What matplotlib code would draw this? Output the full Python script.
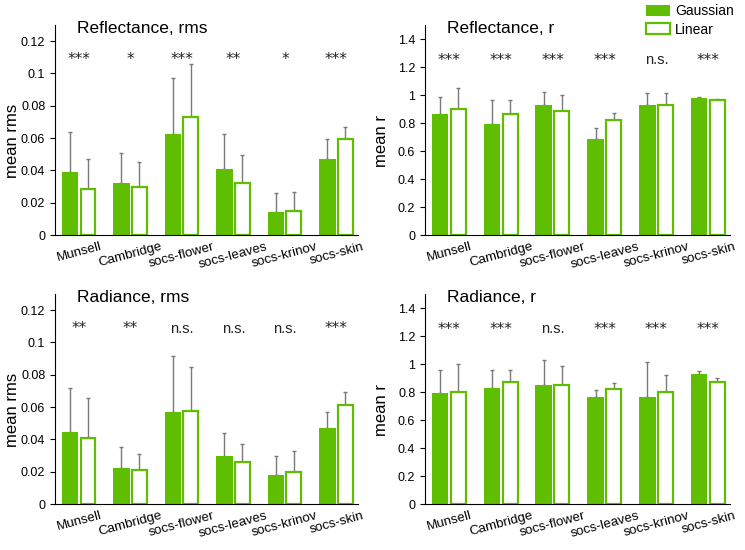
import numpy as np
import matplotlib
matplotlib.use('Agg')
import matplotlib.pyplot as plt
from matplotlib.patches import Patch
from matplotlib.ticker import FuncFormatter

plt.rcParams['font.family'] = ['Liberation Sans', 'DejaVu Sans']

# Data sets (categories)
datasets = ['Munsell', 'Cambridge', 'socs-flower', 'socs-leaves', 'socs-krinov', 'socs-skin']

# Reflectance, rms
refl_rms_gauss = [0.0392, 0.0324, 0.0623, 0.0406, 0.0140, 0.0468]
refl_rms_gauss_sd = [0.0243, 0.0185, 0.0346, 0.0217, 0.0118, 0.0124]
refl_rms_lin = [0.0287, 0.0299, 0.0728, 0.0320, 0.0150, 0.0592]
refl_rms_lin_sd = [0.0185, 0.0153, 0.0328, 0.0173, 0.0114, 0.0076]
refl_rms_sig = ['***', '*', '***', '**', '*', '***']

# Reflectance, r
refl_r_gauss = [0.862, 0.793, 0.931, 0.688, 0.926, 0.979]
refl_r_gauss_sd = [0.126, 0.171, 0.090, 0.074, 0.086, 0.007]
refl_r_lin = [0.898, 0.862, 0.886, 0.824, 0.926, 0.962]
refl_r_lin_sd = [0.154, 0.100, 0.112, 0.045, 0.086, 0.007]
refl_r_sig = ['***', '***', '***', '***', 'n.s.', '***']

# Radiance, rms
rad_rms_gauss = [0.0446, 0.0225, 0.0572, 0.0300, 0.0180, 0.0469]
rad_rms_gauss_sd = [0.0273, 0.0126, 0.0343, 0.0142, 0.0120, 0.0099]
rad_rms_lin = [0.0407, 0.0209, 0.0576, 0.0258, 0.0196, 0.0616]
rad_rms_lin_sd = [0.0248, 0.0101, 0.0273, 0.0112, 0.0133, 0.0080]
rad_rms_sig = ['**', '**', 'n.s.', 'n.s.', 'n.s.', '***']

# Radiance, r
rad_r_gauss = [0.793, 0.826, 0.848, 0.764, 0.767, 0.929]
rad_r_gauss_sd = [0.167, 0.131, 0.181, 0.053, 0.247, 0.023]
rad_r_lin = [0.802, 0.871, 0.852, 0.821, 0.798, 0.871]
rad_r_lin_sd = [0.198, 0.086, 0.136, 0.046, 0.126, 0.029]
rad_r_sig = ['***', '***', 'n.s.', '***', '***', '***']

GREEN = '#5fbe00'
ERR = '#7a7a7a'


def fmt_tick(v, pos):
    return '%g' % round(v, 3)


def draw_panel(ax, title, ylabel, gauss, gauss_sd, lin, lin_sd, sig, ymax, yticks, sig_y):
    x = np.arange(len(datasets))
    w = 0.32
    off = 0.175
    zeros = np.zeros(len(x))

    # error bars (upper only), drawn below the bars
    ax.errorbar(x - off, gauss, yerr=[zeros, gauss_sd], fmt='none', ecolor=ERR,
                elinewidth=1, capsize=1.5, capthick=1, zorder=1)
    ax.errorbar(x + off, lin, yerr=[zeros, lin_sd], fmt='none', ecolor=ERR,
                elinewidth=1, capsize=1.5, capthick=1, zorder=1)

    ax.bar(x - off, gauss, width=w, color=GREEN, edgecolor=GREEN, linewidth=0, zorder=2)
    ax.bar(x + off, lin, width=w - 0.03, color='white', edgecolor=GREEN, linewidth=1.6, zorder=2)

    # significance marks
    for xi, s in zip(x, sig):
        if s == 'n.s.':
            ax.text(xi, sig_y, s, ha='center', va='center', fontsize=10.5, color='#222222')
        else:
            ax.text(xi, sig_y, s, ha='center', va='center', fontsize=11,
                    family=['DejaVu Sans'], color='#222222')

    ax.set_xlim(-0.466, 5.42)
    ax.set_ylim(0, ymax)
    ax.set_yticks(yticks)
    ax.yaxis.set_major_formatter(FuncFormatter(fmt_tick))
    ax.set_xticks(x)
    ax.set_xticklabels(datasets, rotation=15, ha='center', fontsize=9.6)
    ax.tick_params(axis='x', length=0, pad=4)
    ax.tick_params(axis='y', length=3.5, labelsize=9, width=0.8, pad=3.5)
    ax.set_ylabel(ylabel, fontsize=12)
    ax.yaxis.set_label_coords(-0.117, 0.45)

    ax.spines['top'].set_visible(False)
    ax.spines['right'].set_visible(False)
    ax.spines['left'].set_linewidth(0.8)
    ax.spines['bottom'].set_linewidth(0.8)

    ax.text(0.072, 0.985, title, transform=ax.transAxes, ha='left', va='center', fontsize=12.5)


fig = plt.figure(figsize=(7.45, 5.5), dpi=100)

ax1 = fig.add_axes([0.0738, 0.5727, 0.4067, 0.3818])
ax2 = fig.add_axes([0.5705, 0.5727, 0.4094, 0.3818])
ax3 = fig.add_axes([0.0738, 0.0836, 0.4067, 0.3818])
ax4 = fig.add_axes([0.5705, 0.0836, 0.4094, 0.3818])

rms_ticks = [0, 0.02, 0.04, 0.06, 0.08, 0.1, 0.12]
r_ticks = [0, 0.2, 0.4, 0.6, 0.8, 1.0, 1.2, 1.4]

draw_panel(ax1, 'Reflectance, rms', 'mean rms', refl_rms_gauss, refl_rms_gauss_sd,
           refl_rms_lin, refl_rms_lin_sd, refl_rms_sig, 0.13, rms_ticks, 0.1085)
draw_panel(ax2, 'Reflectance, r', 'mean r', refl_r_gauss, refl_r_gauss_sd,
           refl_r_lin, refl_r_lin_sd, refl_r_sig, 1.5, r_ticks, 1.25)
draw_panel(ax3, 'Radiance, rms', 'mean rms', rad_rms_gauss, rad_rms_gauss_sd,
           rad_rms_lin, rad_rms_lin_sd, rad_rms_sig, 0.13, rms_ticks, 0.1085)
draw_panel(ax4, 'Radiance, r', 'mean r', rad_r_gauss, rad_r_gauss_sd,
           rad_r_lin, rad_r_lin_sd, rad_r_sig, 1.5, r_ticks, 1.25)

# legend in the top right corner
handles = [Patch(facecolor=GREEN, edgecolor=GREEN, linewidth=0, label='Gaussian'),
           Patch(facecolor='white', edgecolor=GREEN, linewidth=1.6, label='Linear')]
fig.legend(handles=handles, loc='upper left', bbox_to_anchor=(0.867, 0.992),
           frameon=False, fontsize=10, handlelength=1.73, handleheight=0.8,
           handletextpad=0.35, labelspacing=0.3, borderpad=0, borderaxespad=0)

fig.savefig('out.png', dpi=100)
